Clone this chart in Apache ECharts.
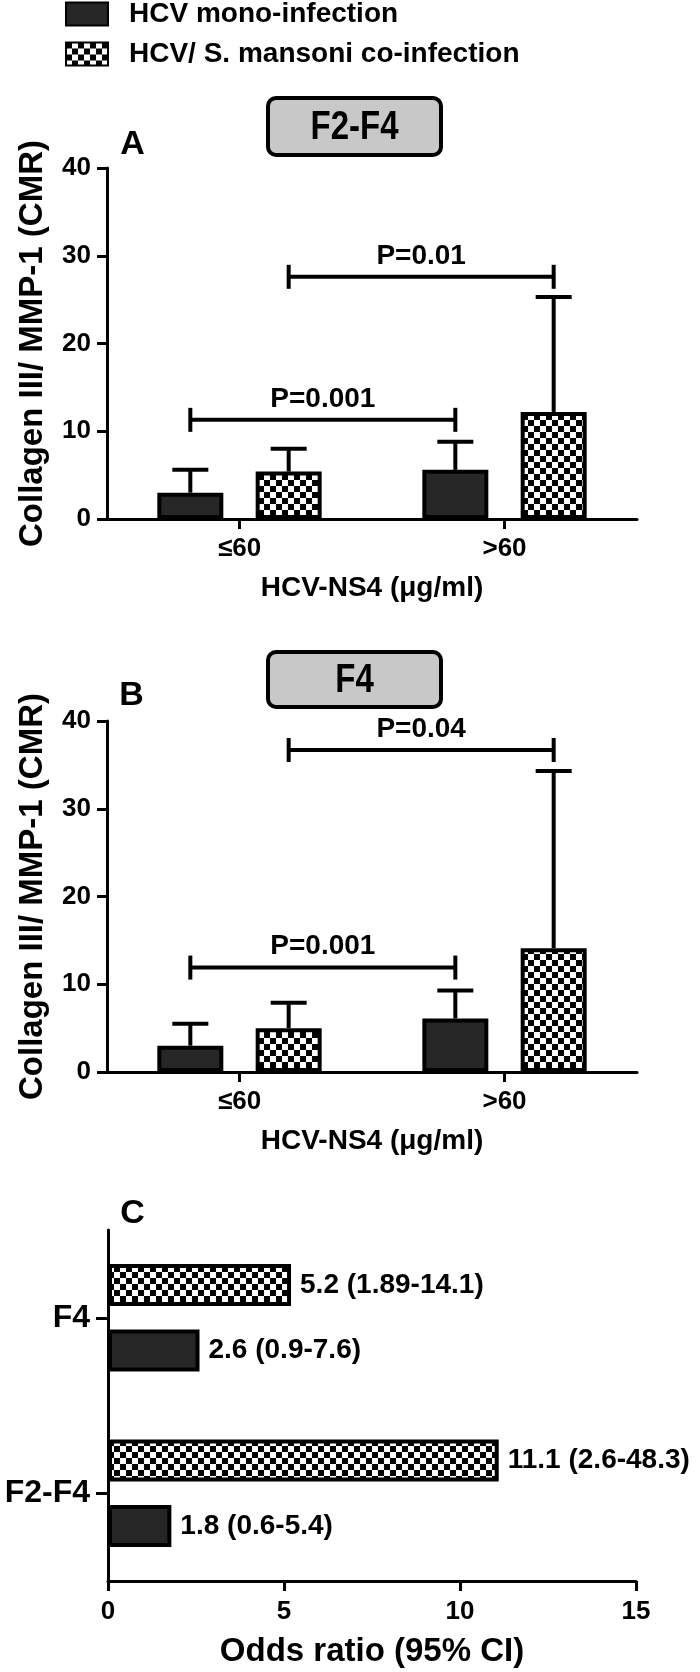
<!DOCTYPE html>
<html>
<head>
    <meta charset="utf-8">
    <title>Collagen III / MMP-1 by HCV-NS4</title>
    <script src="https://cdn.jsdelivr.net/npm/echarts@6/dist/echarts.min.js"></script>
    <style>
        body { margin: 0; background: #fff; }
        #chart { width: 700px; height: 1672px; }
    </style>
</head>
<body>
    <div id="chart"></div>

    <script>
    // ---- data ----
    const groups = ['≤60', '>60'];
    const seriesNames = ['HCV mono-infection', 'HCV/ S. mansoni co-infection'];

    // panel A (F2-F4)
    const monoA = [3.0, 5.6];
    const monoTopA = [5.6, 8.8];     // upper end of error bar
    const coA = [5.4, 12.2];
    const coTopA = [8.0, 25.3];
    const bracketYA = [11.3, 27.6];
    const bracketPA = ['P=0.001', 'P=0.01'];

    // panel B (F4)
    const monoB = [3.0, 6.1];
    const monoTopB = [5.5, 9.3];
    const coB = [5.0, 14.1];
    const coTopB = [7.9, 34.3];
    const bracketYB = [11.9, 36.7];
    const bracketPB = ['P=0.001', 'P=0.04'];

    // which series each bracket joins (0 = mono, 1 = co), ≤60 -> >60
    const bracketSeries = [0, 1];

    // panel C (odds ratios)
    const stages = ['F2-F4', 'F4'];
    const orMono = [1.8, 2.6];
    const orCo = [11.1, 5.2];
    const ciMono = ['0.6-5.4', '0.9-7.6'];
    const ciCo = ['2.6-48.3', '1.89-14.1'];

    // ---- styling ----
    const FONT = 'Liberation Sans';
    const MONO_FILL = '#262626';
    const BAR_W = 66, BAR_GAP = 0.49;
    const SHIFT = BAR_W * (1 + BAR_GAP) / 2;

    function checker() {
        const c = document.createElement('canvas');
        c.width = c.height = 12;
        const ctx = c.getContext('2d');
        ctx.fillStyle = '#fff';
        ctx.fillRect(0, 0, 12, 12);
        ctx.fillStyle = '#000';
        ctx.fillRect(0, 0, 6, 6);
        ctx.fillRect(6, 6, 6, 6);
        return c;
    }
    const CHECK = { image: checker(), repeat: 'repeat' };

    const axisLine = { show: true, lineStyle: { color: '#000', width: 3 } };
    const tickStyle = { color: '#000', width: 3 };
    const labelText = { color: '#000', fontFamily: FONT, fontWeight: 'bold', fontSize: 26 };

    function yValueAxis(grid) {
        return {
            type: 'value', gridIndex: grid, min: 0, max: 40, interval: 10,
            name: 'Collagen III/ MMP-1 (CMR)', nameLocation: 'middle', nameGap: 58, nameRotate: 90,
            nameTextStyle: { color: '#000', fontFamily: FONT, fontWeight: 'bold', fontSize: 33 },
            axisLine: axisLine,
            axisTick: { show: true, length: 10, lineStyle: tickStyle },
            axisLabel: Object.assign({ margin: 16 }, labelText),
            splitLine: { show: false }
        };
    }
    function xCatAxis(grid) {
        return {
            type: 'category', gridIndex: grid, data: groups,
            name: 'HCV-NS4 (μg/ml)', nameLocation: 'middle', nameGap: 55,
            nameTextStyle: { color: '#000', fontFamily: FONT, fontWeight: 'bold', fontSize: 28 },
            axisLine: axisLine,
            axisTick: { show: true, alignWithLabel: true, length: 10, lineStyle: tickStyle },
            axisLabel: Object.assign({ margin: 17 }, labelText)
        };
    }

    function barSeries(grid, idx, values) {
        return {
            type: 'bar', name: seriesNames[idx], xAxisIndex: grid, yAxisIndex: grid,
            data: values, barWidth: BAR_W, barGap: (BAR_GAP * 100) + '%',
            itemStyle: { color: idx === 0 ? MONO_FILL : CHECK, borderColor: '#000', borderWidth: 4 },
            emphasis: { disabled: true }, z: 2
        };
    }

    function errorSeries(grid, idx, values, tops) {
        const shift = idx === 0 ? -SHIFT : SHIFT;
        return {
            type: 'custom', xAxisIndex: grid, yAxisIndex: grid, z: 3,
            data: values.map((v, i) => [i, v, tops[i]]),
            encode: { x: 0, y: [1, 2] },
            renderItem: function (params, api) {
                const base = api.coord([api.value(0), api.value(1)]);
                const top = api.coord([api.value(0), api.value(2)]);
                const x = base[0] + shift;
                const st = { stroke: '#000', lineWidth: 4 };
                return {
                    type: 'group', children: [
                        { type: 'line', shape: { x1: x, y1: base[1], x2: x, y2: top[1] }, style: st },
                        { type: 'line', shape: { x1: x - 18, y1: top[1], x2: x + 18, y2: top[1] }, style: st }
                    ]
                };
            }
        };
    }

    function bracketSeriesFor(grid, ys, labels) {
        return {
            type: 'custom', xAxisIndex: grid, yAxisIndex: grid, z: 4,
            data: ys.map((y, i) => [0, 1, y, bracketSeries[i]]),
            encode: { x: [0, 1], y: 2 },
            renderItem: function (params, api) {
                const s = api.value(3) === 0 ? -SHIFT : SHIFT;
                const a = api.coord([api.value(0), api.value(2)]);
                const b = api.coord([api.value(1), api.value(2)]);
                const x1 = a[0] + s, x2 = b[0] + s, y = a[1];
                const st = { stroke: '#000', lineWidth: 4 };
                return {
                    type: 'group', children: [
                        { type: 'line', shape: { x1: x1, y1: y, x2: x2, y2: y }, style: st },
                        { type: 'line', shape: { x1: x1, y1: y - 12, x2: x1, y2: y + 12 }, style: st },
                        { type: 'line', shape: { x1: x2, y1: y - 12, x2: x2, y2: y + 12 }, style: st },
                        {
                            type: 'text', x: (x1 + x2) / 2, y: y - 7,
                            style: {
                                text: labels[params.dataIndex], fill: '#000',
                                font: 'bold 28px "' + FONT + '"',
                                textAlign: 'center', textVerticalAlign: 'bottom'
                            }
                        }
                    ]
                };
            }
        };
    }

    function orSeries(idx, values, cis) {
        return {
            type: 'bar', name: seriesNames[idx], xAxisIndex: 2, yAxisIndex: 2,
            data: values, barWidth: 42, barGap: '56%',
            itemStyle: { color: idx === 0 ? MONO_FILL : CHECK, borderColor: '#000', borderWidth: 4 },
            label: {
                show: true, position: 'right', distance: 9,
                color: '#000', fontFamily: FONT, fontWeight: 'bold', fontSize: 28,
                formatter: p => p.value.toFixed(1) + ' (' + cis[p.dataIndex] + ')'
            },
            emphasis: { disabled: true }
        };
    }

    function panelBox(y, h, text) {
        return [
            { type: 'rect', shape: { x: 268, y: y, width: 173, height: h, r: 8 },
              style: { fill: '#c8c8c8', stroke: '#000', lineWidth: 4 } },
            { type: 'text', x: 354.5, y: y + h / 2 + 1, scaleY: 1.22,
              style: { text: text, fill: '#000', font: 'bold 33px "' + FONT + '"',
                       textAlign: 'center', textVerticalAlign: 'middle' } }
        ];
    }
    function panelLetter(x, y, text) {
        return { type: 'text', x: x, y: y,
                 style: { text: text, fill: '#000', font: 'bold 34px "' + FONT + '"',
                          textAlign: 'center', textVerticalAlign: 'middle' } };
    }

    const chart = echarts.init(document.getElementById('chart'), null, { renderer: 'canvas' });

    const option = {
        backgroundColor: '#fff',
        animation: false,
        textStyle: { fontFamily: FONT },
        legend: {
            data: seriesNames, orient: 'vertical', left: 65, top: 0, padding: 0,
            itemWidth: 42, itemHeight: 23, itemGap: 12,
            icon: 'rect', selectedMode: false,
            textStyle: { color: '#000', fontFamily: FONT, fontWeight: 'bold', fontSize: 28,
                         lineHeight: 28, padding: [0, 0, 0, 16] }
        },
        grid: [
            { left: 107, top: 168, width: 530, height: 351, containLabel: false, outerBoundsMode: 'none' },
            { left: 107, top: 721, width: 530, height: 351, containLabel: false, outerBoundsMode: 'none' },
            { left: 108, top: 1230, width: 528, height: 351, containLabel: false, outerBoundsMode: 'none' }
        ],
        xAxis: [
            xCatAxis(0),
            xCatAxis(1),
            {
                type: 'value', gridIndex: 2, min: 0, max: 15, interval: 5,
                name: 'Odds ratio (95% CI)', nameLocation: 'middle', nameGap: 54,
                nameTextStyle: { color: '#000', fontFamily: FONT, fontWeight: 'bold', fontSize: 33 },
                axisLine: axisLine,
                axisTick: { show: true, length: 10, lineStyle: tickStyle },
                axisLabel: Object.assign({ margin: 18 }, labelText),
                splitLine: { show: false }
            }
        ],
        yAxis: [
            yValueAxis(0),
            yValueAxis(1),
            {
                type: 'category', gridIndex: 2, data: stages,
                axisLine: axisLine,
                axisTick: { show: true, alignWithLabel: true, length: 12, lineStyle: tickStyle },
                axisLabel: { margin: 18, color: '#000', fontFamily: FONT, fontWeight: 'bold', fontSize: 32 }
            }
        ],
        series: [
            barSeries(0, 0, monoA), barSeries(0, 1, coA),
            errorSeries(0, 0, monoA, monoTopA), errorSeries(0, 1, coA, coTopA),
            bracketSeriesFor(0, bracketYA, bracketPA),
            barSeries(1, 0, monoB), barSeries(1, 1, coB),
            errorSeries(1, 0, monoB, monoTopB), errorSeries(1, 1, coB, coTopB),
            bracketSeriesFor(1, bracketYB, bracketPB),
            // co-infection first so it sits above mono in each band
            orSeries(1, orCo, ciCo), orSeries(0, orMono, ciMono)
        ],
        graphic: [].concat(
            panelBox(98, 57, 'F2-F4'),
            panelBox(652, 55, 'F4'),
            [panelLetter(132.5, 145, 'A'), panelLetter(131.5, 696, 'B'), panelLetter(132.5, 1214, 'C')]
        )
    };

    chart.setOption(option);
    </script>
</body>
</html>
